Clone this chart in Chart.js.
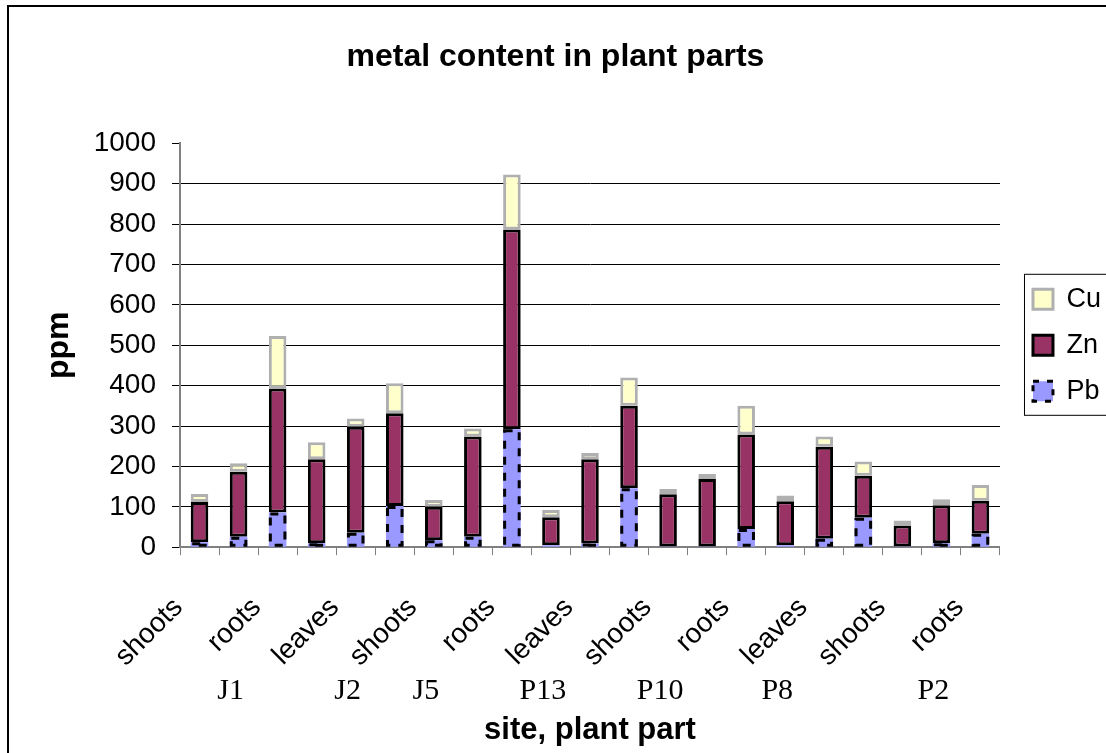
<!DOCTYPE html>
<html>
<head>
<meta charset="utf-8">
<title>metal content in plant parts</title>
<script src="https://cdn.jsdelivr.net/npm/chart.js@4.4.1/dist/chart.umd.min.js"></script>
<style>
  html, body { margin: 0; padding: 0; background: #fff; }
  canvas { display: block; }
</style>
</head>
<body>
<canvas id="chart" width="1106" height="753"></canvas>
<script>
// ---------------------------
// Data
// ---------------------------
const sites = ["J1", "J2", "J5", "P13", "P10", "P8", "P2"];
const parts = ["shoots", "leaves", "roots"];

// site names as Excel printed them under the part labels
const siteRow = ["", "J1", "", "", "J2", "", "J5", "", "", "P13", "", "",
                 "P10", "", "", "P8", "", "", "", "P2", ""];

const pb = [12, 26, 86, 10, 36, 102, 17, 26, 292, 5, 9, 146, 2, 2, 45, 5, 21, 73, 2, 10, 33];
const zn = [100, 161, 307, 208, 262, 230, 83, 248, 495, 69, 209, 204, 129, 167, 234, 109, 228, 104, 52, 94, 82];
const cu = [20, 21, 130, 42, 21, 74, 17, 20, 136, 18, 15, 70, 13, 12, 71, 14, 25, 35, 12, 15, 39];

const yTicks = { min: 0, max: 1000, step: 100 };

const categories = sites.flatMap(() => parts);

const ARIAL = "'Liberation Sans', Arial, sans-serif";
const TIMES = "'Liberation Serif', 'Times New Roman', serif";

Chart.defaults.color = "#000";
Chart.defaults.font.family = ARIAL;

// ---------------------------
// Small plugins
// ---------------------------
// dashed black outline on the Pb bars (Excel style)
const dashedPb = {
  id: "dashedPb",
  afterDatasetsDraw(chart){
    const meta = chart.getDatasetMeta(0);
    const ctx = chart.ctx;
    ctx.save();
    ctx.strokeStyle = "#000";
    ctx.lineWidth = 3;
    ctx.setLineDash([8, 8]);
    meta.data.forEach(el => {
      const p = el.getProps(["x", "y", "base", "width"], true);
      const h = p.base - p.y;
      if(h < 3) return;
      ctx.strokeRect(p.x - p.width/2 + 1.5, p.y + 1.5, p.width - 3, h - 3);
    });
    ctx.restore();
  }
};

// frame round the chart + box round the legend
const frames = {
  id: "frames",
  afterDraw(chart){
    const ctx = chart.ctx;
    ctx.save();
    ctx.strokeStyle = "#000";
    ctx.lineWidth = 2;
    ctx.strokeRect(8, 6, 1300, 900);

    const lg = chart.legend;
    if(lg && lg.legendHitBoxes && lg.legendHitBoxes.length){
      const hb = lg.legendHitBoxes;
      const top = hb[0].top - 12;
      const last = hb[hb.length-1];
      const bottom = last.top + last.height + 10;
      const left = hb[0].left - 9;
      ctx.lineWidth = 1;
      ctx.strokeStyle = "#000";
      ctx.strokeRect(left + 0.5, top + 0.5, 200, bottom - top);
    }
    ctx.restore();
  }
};

// ---------------------------
// Chart
// ---------------------------
new Chart(document.getElementById("chart"), {
  type: "bar",
  data: {
    labels: categories,
    datasets: [
      { label: "Pb", data: pb, backgroundColor: "#9999ff", borderWidth: 0 },
      { label: "Zn", data: zn, backgroundColor: "#993366", borderColor: "#000", borderWidth: 3, borderSkipped: false },
      { label: "Cu", data: cu, backgroundColor: "#ffffcc", borderColor: "#b0b0b0", borderWidth: 3, borderSkipped: false }
    ]
  },
  options: {
    responsive: false,
    animation: false,
    barPercentage: 0.9,
    categoryPercentage: 0.5,
    layout: { padding: { left: 0, right: -5, top: 0, bottom: 0 } },
    plugins: {
      title: {
        display: true,
        text: "metal content in plant parts",
        color: "#000",
        font: { family: ARIAL, size: 32, weight: "bold" },
        padding: { top: 38, bottom: 67 }
      },
      legend: {
        position: "right",
        fullSize: false,
        reverse: true,
        labels: {
          boxWidth: 20,
          boxHeight: 20,
          padding: 19,
          color: "#000",
          font: { family: ARIAL, size: 27 },
          generateLabels(chart){
            const items = Chart.defaults.plugins.legend.labels.generateLabels(chart);
            items.forEach(it => {
              if(it.text === "Pb"){
                it.strokeStyle = "#000";
                it.lineWidth = 3;
                it.lineDash = [6, 8];
              }
            });
            return items;
          }
        }
      },
      tooltip: { enabled: false }
    },
    scales: {
      x: {
        stacked: true,
        grid: { display: true, drawOnChartArea: false, color: "#808080", tickLength: 8, offset: true },
        border: { color: "#808080", width: 2 },
        ticks: {
          autoSkip: false,
          minRotation: 45,
          maxRotation: 45,
          padding: 36,
          labelOffset: -21,
          font: { family: ARIAL, size: 28 },
          color: "#000",
          callback(v, i){ return i % 2 === 0 ? categories[i] : ""; }
        },
        afterFit(s){ s.height = 123; }
      },
      x2: {
        type: "category",
        position: "bottom",
        labels: siteRow,
        weight: 1,
        grid: { display: false, drawTicks: false },
        border: { display: false },
        ticks: {
          autoSkip: false,
          maxRotation: 0,
          minRotation: 0,
          padding: 2.6,
          labelOffset: -8,
          font: { family: TIMES, size: 30 },
          color: "#000"
        },
        title: {
          display: true,
          text: "site, plant part",
          color: "#000",
          font: { family: ARIAL, size: 31, weight: "bold" },
          padding: { top: 0, bottom: 4.4 }
        }
      },
      y: {
        stacked: true,
        min: yTicks.min,
        max: yTicks.max,
        grid: {
          color: c => (c.tick && c.tick.value === yTicks.max) ? "rgba(0,0,0,0)" : "#000",
          tickColor: "#000",
          tickLength: 8,
          lineWidth: 1
        },
        border: { color: "#808080", width: 2 },
        ticks: {
          stepSize: yTicks.step,
          padding: 16,
          font: { family: ARIAL, size: 28 },
          color: "#000",
          callback: v => String(v)
        },
        title: {
          display: true,
          text: "ppm",
          color: "#000",
          font: { family: ARIAL, size: 32, weight: "bold" },
          padding: { top: 40, bottom: 0 }
        },
        afterFit(s){ s.width = 180; }
      },
      y2: {
        position: "right",
        grid: { display: false, drawTicks: false },
        border: { display: false },
        ticks: { display: false },
        afterFit(s){ s.width = 14; }
      }
    }
  },
  plugins: [dashedPb, frames]
});
</script>
</body>
</html>
